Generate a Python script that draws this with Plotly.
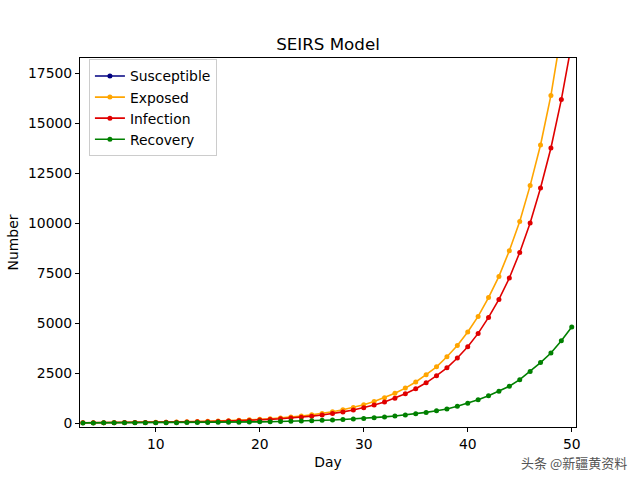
import plotly.graph_objects as go

# day index of each sample
days = list(range(3, 51))

# values (susceptible stays far above the visible range)
susceptible = [999973, 999968, 999963, 999957, 999949, 999941, 999931, 999918,
               999905, 999889, 999869, 999848, 999822, 999791, 999756, 999713,
               999664, 999606, 999539, 999461, 999367, 999259, 999133, 998986,
               998811, 998605, 998370, 998090, 997760, 997375, 996925, 996395,
               995780, 995045, 994215, 993230, 992045, 990650, 989025, 987085,
               984905, 982300, 979225, 975560, 971330, 966370, 960420, 953500]
exposed = [12, 14, 16, 19, 23, 27, 31, 37, 43, 51, 60, 70, 82, 97, 113, 133,
           157, 184, 216, 253, 298, 350, 410, 480, 565, 665, 780, 915, 1075,
           1265, 1485, 1745, 2050, 2415, 2810, 3310, 3870, 4550, 5330, 6270,
           7330, 8615, 10080, 11870, 13900, 16380, 19300, 22700]
infection = [10, 12, 14, 16, 19, 22, 26, 31, 36, 42, 50, 58, 68, 80, 94, 111,
             130, 153, 180, 211, 248, 291, 342, 402, 472, 555, 650, 765, 900,
             1055, 1240, 1460, 1710, 2010, 2365, 2760, 3250, 3810, 4480, 5280,
             6180, 7250, 8530, 10000, 11750, 13750, 16170, 19000]
recovery = [5, 6, 7, 8, 9, 10, 12, 14, 16, 18, 21, 24, 28, 32, 37, 43, 49, 57,
            65, 75, 87, 100, 115, 132, 152, 175, 200, 230, 265, 305, 350, 400,
            460, 530, 610, 700, 835, 990, 1165, 1365, 1585, 1835, 2165, 2570,
            3020, 3500, 4110, 4800]

series = [
    ("Susceptible", susceptible, "#000080"),
    ("Exposed", exposed, "#FFA500"),
    ("Infection", infection, "#E00000"),
    ("Recovery", recovery, "#008000"),
]

FONT = "DejaVu Sans"

fig = go.Figure()
for name, vals, color in series:
    fig.add_trace(go.Scatter(
        x=days, y=vals, name=name, mode="lines+markers",
        line=dict(color=color, width=1.6),
        marker=dict(color=color, size=5),
    ))

axis_common = dict(
    showline=True, linecolor="black", linewidth=1, mirror=True,
    ticks="outside", ticklen=4, tickcolor="black", tickwidth=1,
    showgrid=False, zeroline=False, automargin=False,
    tickfont=dict(family=FONT, size=13.9, color="black"),
)
fig.update_xaxes(range=[2.72, 50.41], tick0=0, dtick=10,
                 title=dict(text="Day", font=dict(family=FONT, size=13.9, color="black"), standoff=6),
                 **axis_common)
fig.update_yaxes(range=[-200, 18250], tick0=0, dtick=2500, tickformat="d",
                 title=dict(text="Number", font=dict(family=FONT, size=13.9, color="black"), standoff=6),
                 **axis_common)

fig.update_layout(
    width=640, height=480,
    margin=dict(l=80, r=64, t=58, b=53),
    paper_bgcolor="white", plot_bgcolor="white",
    font=dict(family=FONT, color="black"),
    title=dict(text="SEIRS Model", x=0.5125, xanchor="center",
               y=1 - 44 / 480, yanchor="middle",
               font=dict(family=FONT, size=16.7, color="black")),
    legend=dict(x=0.018, y=0.996, xanchor="left", yanchor="top",
                bgcolor="rgba(255,255,255,0.8)", bordercolor="#cccccc", borderwidth=1,
                font=dict(family=FONT, size=13.9, color="black"),
                itemwidth=30),
    showlegend=True,
    annotations=[dict(
        text="头条 @新疆黄资料", xref="paper", yref="paper",
        x=(574 - 80) / 496, y=-(462 - 427) / 369,
        xanchor="center", yanchor="middle", showarrow=False,
        font=dict(family="Noto Sans CJK SC", size=13, color="#555555"),
    )],
)

# drop the default body margin so the figure sits at the page origin
fig.write_html("out.html", config={"displayModeBar": False},
               post_script="document.body.style.margin='0';")
